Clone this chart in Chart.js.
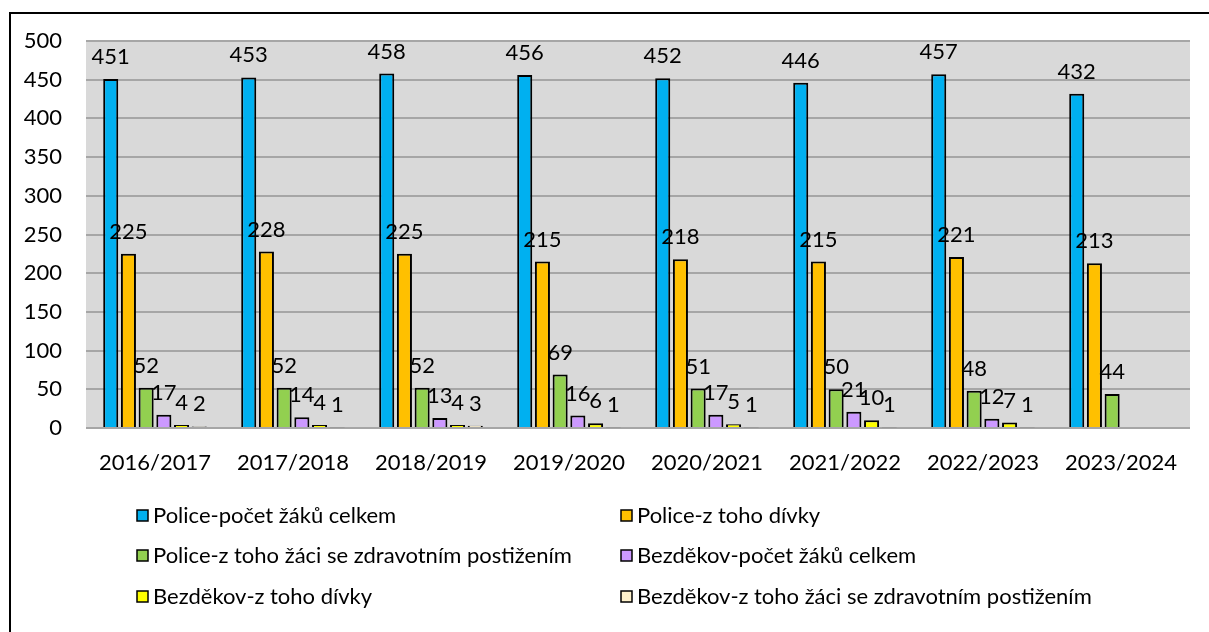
<!DOCTYPE html>
<html>
<head>
<meta charset="utf-8">
<script src="https://cdn.jsdelivr.net/npm/chart.js@4"></script>
<style>
  html, body { margin: 0; padding: 0; background: #fff; overflow: hidden; }
  #frame { position: absolute; left: 9px; top: 12px; width: 1400px; height: 800px; border: 2px solid #000; }
  #wrap { position: absolute; left: 0; top: 0; width: 1209px; height: 632px; }
</style>
</head>
<body>
<div id="frame"></div>
<div id="wrap"><canvas id="myChart" width="1209" height="632"></canvas></div>
<script>
const years = ["2016/2017", "2017/2018", "2018/2019", "2019/2020", "2020/2021", "2021/2022", "2022/2023", "2023/2024"];

const policeCelkem = [451, 453, 458, 456, 452, 446, 457, 432];
const policeDivky = [225, 228, 225, 215, 218, 215, 221, 213];
const policePostizeni = [52, 52, 52, 69, 51, 50, 48, 44];
const bezdekovCelkem = [17, 14, 13, 16, 17, 21, 12, null];
const bezdekovDivky = [4, 4, 4, 6, 5, 10, 7, null];
const bezdekovPostizeni = [2, 1, 3, 1, 1, 1, 1, null];

const yTicks = [0, 50, 100, 150, 200, 250, 300, 350, 400, 450, 500];

const fontName = "Lato, 'Open Sans', sans-serif";
const fontSize = 22;

// gray plot background
const plotBg = {
  id: "plotBg",
  beforeDraw(chart) {
    const a = chart.chartArea;
    const ctx = chart.ctx;
    ctx.save();
    ctx.fillStyle = "#D9D9D9";
    ctx.fillRect(a.left, a.top, a.right - a.left, a.bottom - a.top);
    ctx.restore();
  }
};

// numbers above the bars
const barLabels = {
  id: "barLabels",
  afterDatasetsDraw(chart) {
    const ctx = chart.ctx;
    ctx.save();
    ctx.font = fontSize + "px " + fontName;
    ctx.fillStyle = "#000";
    ctx.textAlign = "center";
    ctx.textBaseline = "alphabetic";
    chart.data.datasets.forEach((ds, i) => {
      const meta = chart.getDatasetMeta(i);
      meta.data.forEach((bar, j) => {
        if (ds.data[j] == null) return;
        ctx.fillText(ds.data[j], bar.x, bar.y - 15);
      });
    });
    ctx.restore();
  }
};

// legend in two columns
const twoColLegend = {
  id: "twoColLegend",
  afterDraw(chart) {
    const ctx = chart.ctx;
    const colX = [137, 621];
    const rowY = [516, 556, 597];
    ctx.save();
    ctx.font = fontSize + "px " + fontName;
    ctx.textBaseline = "middle";
    chart.data.datasets.forEach((ds, i) => {
      const x = colX[i % 2];
      const y = rowY[Math.floor(i / 2)];
      ctx.fillStyle = ds.backgroundColor;
      ctx.fillRect(x, y - 6, 11, 11);
      ctx.strokeStyle = "#000";
      ctx.lineWidth = 1.5;
      ctx.strokeRect(x, y - 6, 11, 11);
      ctx.fillStyle = "#000";
      ctx.fillText(ds.label, x + 16, y);
    });
    ctx.restore();
  }
};

function makeSet(label, data, color) {
  return {
    label: label,
    data: data,
    backgroundColor: color,
    borderColor: "#000",
    borderWidth: 2,
    categoryPercentage: 0.77,
    barPercentage: 0.85
  };
}

const myChart = new Chart("myChart", {
  type: "bar",
  data: {
    labels: years,
    datasets: [
      makeSet("Police-počet žáků celkem", policeCelkem, "#00B0F0"),
      makeSet("Police-z toho dívky", policeDivky, "#FFC000"),
      makeSet("Police-z toho žáci se zdravotním postižením", policePostizeni, "#92D050"),
      makeSet("Bezděkov-počet žáků celkem", bezdekovCelkem, "#CC99FF"),
      makeSet("Bezděkov-z toho dívky", bezdekovDivky, "#FFFF00"),
      makeSet("Bezděkov-z toho žáci se zdravotním postižením", bezdekovPostizeni, "#FFF2CC")
    ]
  },
  options: {
    responsive: false,
    animation: false,
    layout: { padding: { left: 10, top: 41, right: 19, bottom: 154 } },
    plugins: {
      legend: { display: false },
      tooltip: { enabled: false }
    },
    scales: {
      x: {
        grid: { display: false, drawTicks: false },
        border: { display: false },
        ticks: { color: "#000", font: { family: fontName, size: fontSize }, padding: 22, maxRotation: 0 },
        afterFit(scale) { scale.height = 50; }
      },
      y: {
        min: 0,
        max: 500,
        afterBuildTicks(scale) { scale.ticks = yTicks.map((v) => ({ value: v })); },
        grid: { color: "#A6A6A6", lineWidth: 2, drawTicks: false },
        border: { display: false },
        ticks: { color: "#000", font: { family: fontName, size: fontSize }, padding: 24 },
        afterFit(scale) { scale.width = 76; }
      }
    }
  },
  plugins: [plotBg, barLabels, twoColLegend]
});
</script>
</body>
</html>
